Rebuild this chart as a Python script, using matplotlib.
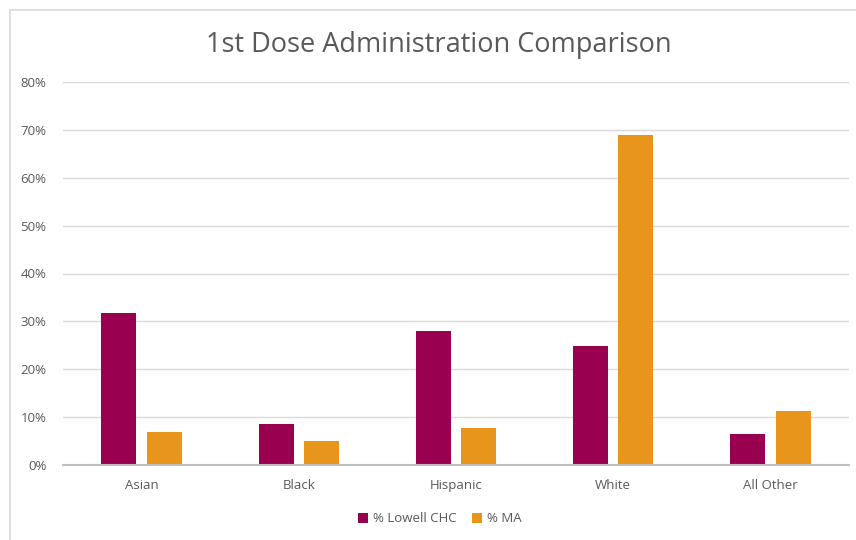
import matplotlib
matplotlib.use("Agg")
import matplotlib.pyplot as plt
import numpy as np
from matplotlib.lines import Line2D

categories = ["Asian", "Black", "Hispanic", "White", "All Other"]
lowell_chc = [0.317, 0.086, 0.280, 0.249, 0.065]
ma = [0.069, 0.050, 0.078, 0.689, 0.113]
series_names = ["% Lowell CHC", "% MA"]
yticks = [0, 0.1, 0.2, 0.3, 0.4, 0.5, 0.6, 0.7, 0.8]
ytick_labels = ["0%", "10%", "20%", "30%", "40%", "50%", "60%", "70%", "80%"]

plt.rcParams['font.family'] = ['Open Sans', 'DejaVu Sans']

W, H = 856, 540
fig = plt.figure(figsize=(W/100, H/100), dpi=100)
fig.patch.set_facecolor('white')

# chart border (partially cropped)
fig.add_artist(Line2D([10/W, 1], [1-10/H, 1-10/H], color='#d9d9d9', lw=1.2, transform=fig.transFigure))
fig.add_artist(Line2D([10/W, 10/W], [0, 1-10/H], color='#d9d9d9', lw=1.2, transform=fig.transFigure))

ax = fig.add_axes([63/W, 1-465/H, (849-63)/W, (465-82)/H])
x = np.arange(len(categories))
bw = 0.223
off = 0.144
c1, c2 = '#990050', '#E8961B'
ax.bar(x - off, lowell_chc, bw, color=c1, label=series_names[0], zorder=3)
ax.bar(x + off, ma, bw, color=c2, label=series_names[1], zorder=3)

ax.set_xlim(-0.5, len(categories) - 0.5)
ax.set_ylim(0, 0.8)
ax.set_yticks(yticks)
ax.set_yticklabels(ytick_labels)
ax.set_xticks(x)
ax.set_xticklabels(categories)
ax.yaxis.grid(True, color='#d9d9d9', lw=1.0, zorder=0)
ax.set_axisbelow(True)
for s in ['top', 'right', 'left']:
    ax.spines[s].set_visible(False)
ax.spines['bottom'].set_color('#bfbfbf')
ax.spines['bottom'].set_linewidth(1.5)
ax.spines['bottom'].set_zorder(4)
ax.tick_params(axis='both', length=0, colors='#595959', labelsize=9.5)
ax.tick_params(axis='x', pad=10)
ax.tick_params(axis='y', pad=12)

fig.text(439/W, 1-45/H, "1st Dose Administration Comparison", ha='center', va='center',
         fontsize=19.5, color='#595959')

leg = fig.legend(loc='center', bbox_to_anchor=(440/W, 1-519/H), ncol=2, frameon=False,
                 fontsize=9.5, handlelength=0.7, handleheight=0.7, columnspacing=1.2,
                 handletextpad=0.4)
for t in leg.get_texts():
    t.set_color('#595959')

fig.savefig("out.png", dpi=100, facecolor='white')
